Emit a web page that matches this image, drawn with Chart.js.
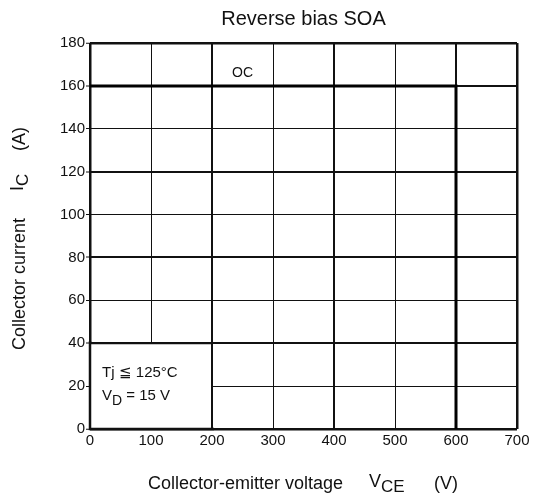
<!DOCTYPE html>
<html>
<head>
<meta charset="utf-8">
<script src="https://cdn.jsdelivr.net/npm/chart.js@4/dist/chart.umd.min.js"></script>
<style>
  html, body { margin: 0; padding: 0; background: #fff; }
  #wrap { width: 533px; height: 499px; }
</style>
</head>
<body>
<div id="wrap"><canvas id="chart"></canvas></div>
<script>
// SOA boundary (VCE in V, IC in A)
const vceValues = [0, 600, 600];
const icValues = [160, 160, 0];
const xTicks = [0, 100, 200, 300, 400, 500, 600, 700];
const yTicks = [0, 20, 40, 60, 80, 100, 120, 140, 160, 180];

const FONT = '"Liberation Sans", Arial, sans-serif';

// writes text with an optional subscript part, returns end x
function drawSub(ctx, x, y, main, sub, size) {
  ctx.font = size + 'px ' + FONT;
  ctx.fillText(main, x, y);
  x += ctx.measureText(main).width;
  if (sub) {
    ctx.font = (size - 1) + 'px ' + FONT;
    ctx.fillText(sub, x, y + 5);
    x += ctx.measureText(sub).width;
  }
  return x;
}

const labelsPlugin = {
  id: 'soaLabels',
  beforeDatasetsDraw(chart) {
    const ctx = chart.ctx;
    const xs = chart.scales.x, ys = chart.scales.y;
    // condition box in lower left corner
    const l = xs.getPixelForValue(0), r = xs.getPixelForValue(200);
    const t = ys.getPixelForValue(40), b = ys.getPixelForValue(0);
    ctx.save();
    ctx.fillStyle = '#fff';
    ctx.fillRect(l, t, r - l, b - t);
    ctx.strokeStyle = '#111';
    ctx.lineWidth = 2;
    ctx.beginPath();
    ctx.moveTo(l, t); ctx.lineTo(r, t); ctx.lineTo(r, b);
    ctx.stroke();
    ctx.lineWidth = 2.5;
    ctx.beginPath();
    ctx.moveTo(l, t - 2); ctx.lineTo(l, b); ctx.lineTo(r + 2, b);
    ctx.stroke();
    ctx.restore();
  },
  afterDraw(chart) {
    const ctx = chart.ctx;
    const xs = chart.scales.x, ys = chart.scales.y;
    const area = chart.chartArea;
    ctx.save();
    ctx.fillStyle = '#111';
    ctx.textBaseline = 'middle';

    // title
    ctx.textAlign = 'center';
    ctx.font = '20px ' + FONT;
    ctx.fillText('Reverse bias SOA', (area.left + area.right) / 2, 19);

    // OC label
    ctx.font = '14px ' + FONT;
    ctx.fillText('OC', xs.getPixelForValue(250), ys.getPixelForValue(166));

    // conditions
    ctx.textAlign = 'left';
    ctx.font = '15px ' + FONT;
    ctx.fillText('Tj \u2266 125\u00b0C', 102, 373);
    let px = drawSub(ctx, 102, 396, 'V', 'D', 15);
    ctx.font = '15px ' + FONT;
    ctx.fillText(' = 15 V', px, 396);

    // x axis title
    ctx.font = '18px ' + FONT;
    ctx.fillText('Collector-emitter voltage', 148, 484);
    drawSub(ctx, 369, 482, 'V', 'CE', 18);
    ctx.font = '18px ' + FONT;
    ctx.fillText('(V)', 434, 484);

    // y axis title (rotated)
    ctx.translate(20, 0);
    ctx.rotate(-Math.PI / 2);
    ctx.font = '18px ' + FONT;
    ctx.fillText('Collector current', -350, 0);
    drawSub(ctx, -191, -2, 'I', 'C', 18);
    ctx.font = '18px ' + FONT;
    ctx.fillText('(A)', -151, 0);
    ctx.restore();
  }
};

function gridWidth(ctx, edgeA, edgeB, step) {
  const v = ctx.tick ? ctx.tick.value : 0;
  if (v === edgeA || v === edgeB) return 2.5;
  return v % step === 0 ? 2 : 1;
}

new Chart(document.getElementById('chart'), {
  type: 'scatter',
  data: {
    datasets: [{
      data: vceValues.map((v, i) => ({ x: v, y: icValues[i] })),
      showLine: true,
      borderColor: '#000',
      borderWidth: 3,
      pointRadius: 0,
      borderJoinStyle: 'miter',
      tension: 0
    }]
  },
  options: {
    responsive: true,
    maintainAspectRatio: false,
    animation: false,
    layout: { padding: { top: 43, right: 16, left: 0, bottom: 0 } },
    plugins: {
      legend: { display: false },
      tooltip: { enabled: false },
      title: { display: false }
    },
    scales: {
      x: {
        type: 'linear',
        min: 0,
        max: 700,
        afterBuildTicks: s => { s.ticks = xTicks.map(v => ({ value: v })); },
        afterFit: s => { s.height = 70; },
        border: { display: false },
        grid: {
          color: '#111',
          drawTicks: false,
          lineWidth: c => gridWidth(c, 0, 700, 200)
        },
        ticks: {
          color: '#111',
          padding: 3,
          maxRotation: 0,
          font: { family: FONT, size: 15 }
        }
      },
      y: {
        type: 'linear',
        min: 0,
        max: 180,
        afterBuildTicks: s => { s.ticks = yTicks.map(v => ({ value: v })); },
        afterFit: s => { s.width = 90; },
        border: { display: false },
        grid: {
          color: '#111',
          tickLength: 4,
          tickColor: '#111',
          tickWidth: 1,
          lineWidth: c => gridWidth(c, 0, 180, 40)
        },
        ticks: {
          color: '#111',
          padding: 1,
          font: { family: FONT, size: 15 }
        }
      }
    }
  },
  plugins: [labelsPlugin]
});
</script>
</body>
</html>
